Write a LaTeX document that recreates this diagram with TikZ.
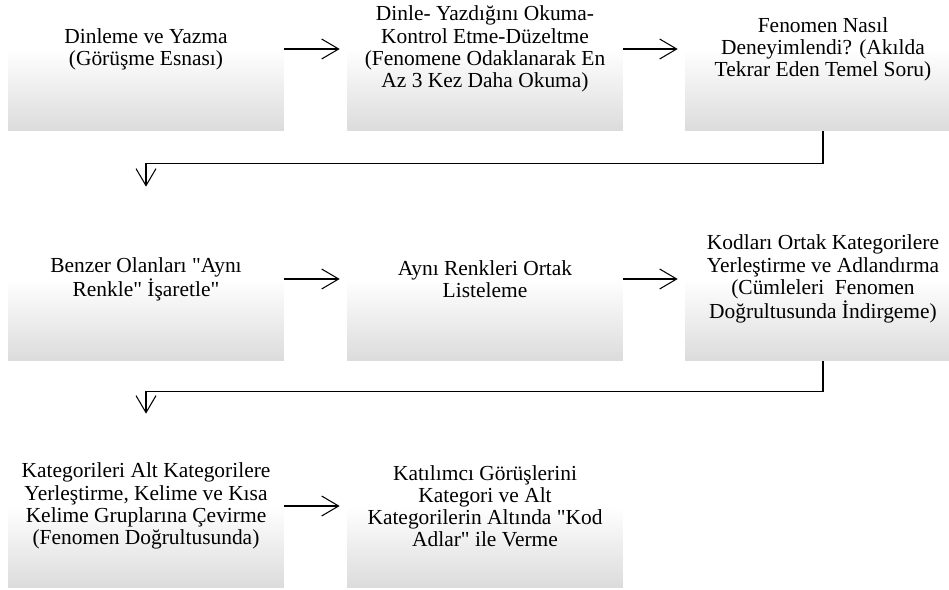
\documentclass[tikz,border=0pt]{standalone}
\usepackage{fontspec}
\setmainfont{Liberation Serif}[Ligatures=TeXOff]
\usetikzlibrary{arrows.meta}

\tikzset{
  kutu/.style={rectangle, inner sep=0pt, minimum width=5.52cm, minimum height=3.28cm,
    top color=white, bottom color=black!14, middle color=white,
    align=center, font=\fontsize{12.2}{12.6}\selectfont},
  ok/.style={line width=0.6pt, -{Straight Barb[length=0.34cm,width=0.4cm]}, shorten >=0.14cm},
  asagi/.style={ok, shorten >=0.2cm}
}

\begin{document}
\begin{tikzpicture}[x=0.02cm, y=0.02cm]

\clip (0,0) rectangle (949,589);

% first row
\node[kutu] (a) at (146,540) {Dinleme ve Yazma\\(Görüşme Esnası)};
\node[kutu] (b) at (485,540) {Dinle- Yazdığını Okuma-\\Kontrol Etme-Düzeltme\\(Fenomene Odaklanarak En\\Az 3 Kez Daha Okuma)};
\node[kutu] (c) at (823,540) {Fenomen Nasıl\\Deneyimlendi? (Akılda\\Tekrar Eden Temel Soru)};

% second row
\node[kutu] (d) at (146,310) {Benzer Olanları "Aynı\\Renkle" İşaretle"};
\node[kutu] (e) at (485,310) {Aynı Renkleri Ortak\\Listeleme};
\node[kutu] (f) at (823,310) {Kodları Ortak Kategorilere\\Yerleştirme ve Adlandırma\\(Cümleleri~ Fenomen\\Doğrultusunda İndirgeme)};

% third row
\node[kutu] (g) at (146,83) {Kategorileri Alt Kategorilere\\Yerleştirme, Kelime ve Kısa\\Kelime Gruplarına Çevirme\\(Fenomen Doğrultusunda)};
\node[kutu] (h) at (485,83) {Katılımcı Görüşlerini\\Kategori ve Alt\\Kategorilerin Altında "Kod\\Adlar" ile Verme};

\foreach \from/\to in {a/b, b/c, d/e, e/f, g/h}
  \draw[ok] (\from) -- (\to);

\draw[asagi] (c.south) -- ++(0,-32) -| (d.north);
\draw[asagi] (f.south) -- ++(0,-30) -| (g.north);

\end{tikzpicture}
\end{document}
